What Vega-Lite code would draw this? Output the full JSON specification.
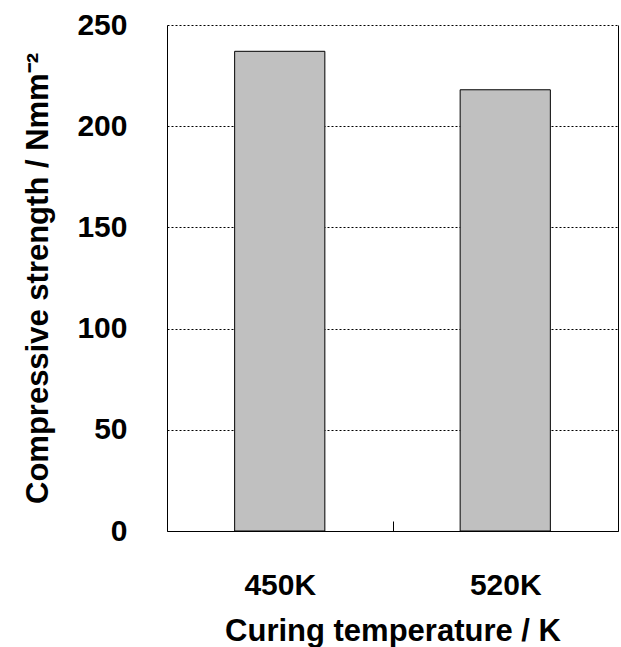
{
  "$schema": "https://vega.github.io/schema/vega-lite/v6.json",
  "autosize": {"type": "none"},
  "padding": {"left": 167, "top": 25, "right": 3, "bottom": 116},
  "width": 451,
  "height": 506,
  "background": "white",
  "config": {
    "view": {"stroke": null},
    "font": "Liberation Sans",
    "axis": {
      "labelFont": "Liberation Sans",
      "titleFont": "Liberation Sans",
      "labelFontWeight": "bold",
      "titleFontWeight": "bold",
      "labelColor": "black",
      "titleColor": "black",
      "domainColor": "black",
      "domainWidth": 1,
      "tickColor": "black"
    }
  },
  "data": {
    "values": [
      {"temperature": "450K", "strength": 237},
      {"temperature": "520K", "strength": 218}
    ]
  },
  "layer": [
    {
      "mark": {"type": "bar", "fill": "#c0c0c0", "stroke": "black", "strokeWidth": 1},
      "encoding": {
        "x": {
          "field": "temperature",
          "type": "nominal",
          "sort": null,
          "scale": {"paddingInner": 0.6, "paddingOuter": 0.3},
          "axis": {
            "title": "Curing temperature / K",
            "titleFontSize": 31,
            "titlePadding": 16,
            "labelFontSize": 30,
            "labelAngle": 0,
            "labelPadding": 49,
            "ticks": true,
            "tickSize": -10,
            "tickWidth": 1,
            "tickOffset": 112.75,
            "labelOffset": -112.75,
            "grid": false
          }
        },
        "y": {
          "field": "strength",
          "type": "quantitative",
          "scale": {"domain": [0, 250], "nice": false},
          "axis": {
            "title": "Compressive strength / Nmm⁻²",
            "titleFontSize": 31,
            "titlePadding": 22,
            "labelFontSize": 30,
            "labelPadding": 40,
            "values": [0, 50, 100, 150, 200, 250],
            "ticks": false,
            "grid": true,
            "gridColor": "black",
            "gridDash": [2, 2],
            "gridWidth": 1,
            "gridOpacity": 1
          }
        }
      }
    },
    {
      "mark": {"type": "bar", "opacity": 0},
      "encoding": {
        "x": {"field": "temperature", "type": "nominal", "sort": null},
        "y": {
          "field": "strength",
          "type": "quantitative",
          "axis": {
            "orient": "right",
            "title": null,
            "labels": false,
            "ticks": false,
            "grid": false,
            "domain": true
          }
        }
      }
    }
  ],
  "resolve": {"axis": {"y": "independent"}}
}
